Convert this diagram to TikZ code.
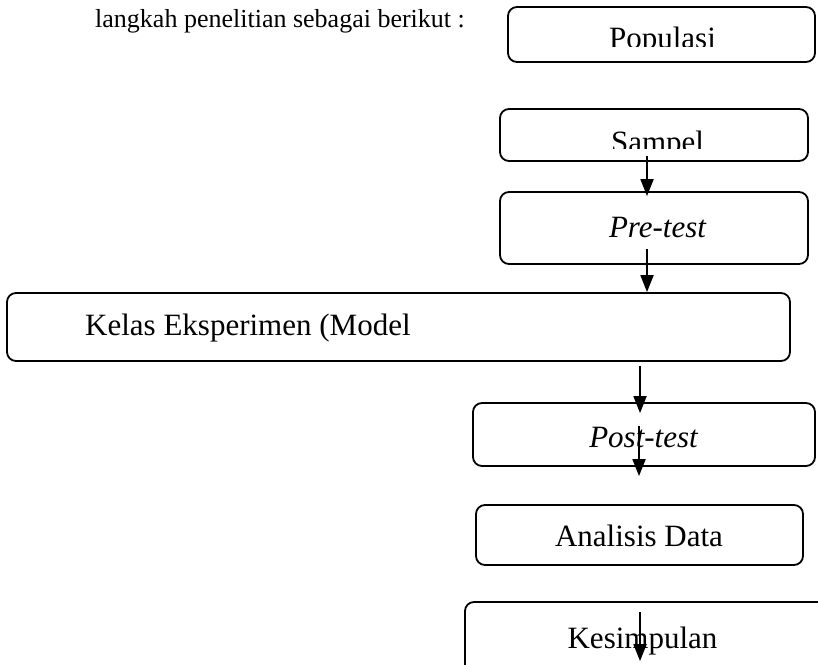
\documentclass[tikz,border=0pt]{standalone}
\usepackage{fontspec}
\setmainfont{Liberation Serif}
\usetikzlibrary{arrows.meta,calc}
\tikzset{
  box/.style={draw, line width=1.8pt, rounded corners=9pt, inner sep=0pt},
  boxtext/.style={inner sep=0pt, anchor=base, font=\fontsize{31}{36}\selectfont},
  arr/.style={line width=1.8pt, -{Triangle[length=17pt,width=13pt]}}
}
\begin{document}
\begin{tikzpicture}[x=1pt,y=-1pt]
\useasboundingbox (0,0) rectangle (818,664);
\fill[white] (0,0) rectangle (818,664);
\clip (0,0) rectangle (818,664);

% intro text
\node[inner sep=0pt, anchor=base west, font=\fontsize{26}{30}\selectfont] (intro) at (95,27) {langkah penelitian sebagai berikut :};

% boxes
\node[box, minimum width=307pt, minimum height=55pt] (pop) at (661.5,34.5) {};
\node[box, minimum width=308pt, minimum height=52pt] (samp) at (654,135) {};
\node[box, minimum width=308pt, minimum height=72pt] (pre) at (654,228) {};
\node[box, minimum width=783pt, minimum height=68pt] (kelas) at (398.5,327) {};
\node[box, minimum width=342pt, minimum height=63pt] (post) at (644,434.5) {};
\node[box, minimum width=327pt, minimum height=60pt] (ana) at (639.5,535) {};
\node[box, minimum width=365pt, minimum height=78pt] (kes) at (647.5,641) {};

% texts (clipped where the reference clips them)
\begin{scope}
  \clip (508,0) rectangle (818,46);
  \node[boxtext] (tpop) at (662.5,48.5) {Populasi};
\end{scope}
\begin{scope}
  \clip (500,100) rectangle (818,148);
  \node[boxtext] (tsamp) at (657.5,152) {Sampel};
\end{scope}
\node[boxtext] (tpre) at (657.5,237) {\itshape Pre-test};
\node[boxtext, anchor=base west] (tkelas) at (85,335) {Kelas Eksperimen (Model};
\node[boxtext] (tpost) at (643.5,447) {\itshape Post-test};
\node[boxtext] (tana) at (639,546) {Analisis Data};
\node[boxtext] (tkes) at (642.5,648) {Kesimpulan};

% arrows
\draw[arr] ($(samp.south)+(-7,-6)$) -- ($(pre.north)+(-7,5)$);
\draw[arr] ($(pre.south)+(-7,-16)$) -- ($(kelas.north -| pre.north)+(-7,0)$);
\draw[arr] ($(kelas.south -| post.north)+(-4,4)$) -- ($(post.north)+(-4,11)$);
\draw[arr] ($(post.north)+(-5,24)$) -- ($(ana.north)+(-0.5,-28)$);
\draw[arr] ($(kes.north)+(-7.5,11)$) -- ($(kes.north)+(-7.5,60)$);
\end{tikzpicture}
\end{document}
